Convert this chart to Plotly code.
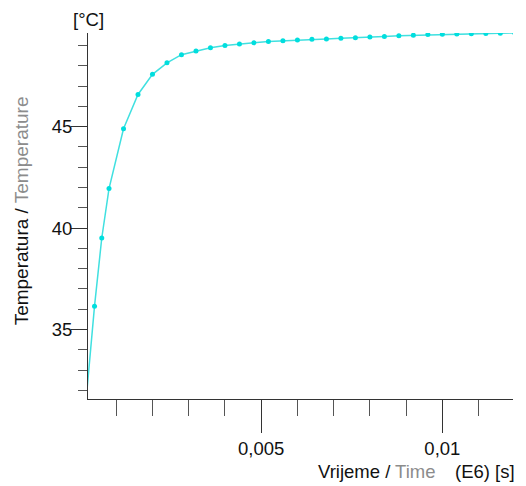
import plotly.graph_objects as go

# Data (time in E6 s, temperature in °C)
time_early = [0.0002, 0.0004, 0.0006, 0.0008, 0.0012, 0.0016]
temp_early = [32.17, 36.15, 39.51, 41.95, 44.90, 46.59]

time_late = [0.0020, 0.0024, 0.0028, 0.0032, 0.0036, 0.0040, 0.0044, 0.0048,
             0.0052, 0.0056, 0.0060, 0.0064, 0.0068, 0.0072, 0.0076, 0.0080,
             0.0084, 0.0088, 0.0092, 0.0096, 0.0100, 0.0104, 0.0108, 0.0112,
             0.0116, 0.0120]
temp_late = [47.58, 48.15, 48.55, 48.73, 48.89, 49.00, 49.08, 49.14,
             49.20, 49.24, 49.27, 49.31, 49.33, 49.36, 49.38, 49.42,
             49.45, 49.49, 49.51, 49.54, 49.56, 49.57, 49.58, 49.59,
             49.61, 49.62]

x_ticks = [0.005, 0.01]
x_ticklabels = ["0,005", "0,01"]
y_ticks = [35, 40, 45]

x_range = [0.00022, 0.01195]
y_range = [31.57, 49.62]

time_all = time_early + time_late
temp_all = temp_early + temp_late

FONT = "Liberation Sans, Arial, sans-serif"
LINE = "#40e0e0"
MARK = "#00dede"
GRAY = "#8c8c8c"
FS = 18.5

fig = go.Figure()
fig.add_trace(go.Scatter(x=time_all, y=temp_all, mode="lines",
                         line=dict(color=LINE, width=1.5), hoverinfo="skip",
                         showlegend=False))
fig.add_trace(go.Scatter(x=time_all[1:], y=temp_all[1:], mode="markers",
                         marker=dict(color=MARK, size=5), showlegend=False))

fig.update_layout(
    width=518, height=478,
    margin=dict(l=80, r=13, t=25, b=87),
    paper_bgcolor="white", plot_bgcolor="white",
    separators=",.",
    font=dict(family=FONT, size=FS, color="#111"),
    xaxis=dict(range=x_range, showgrid=False, zeroline=False,
               showline=True, linecolor="#333", linewidth=1,
               ticks="outside", tickvals=x_ticks, ticktext=x_ticklabels,
               ticklen=33, tickcolor="#333", tickwidth=1,
               minor=dict(dtick=0.001, tick0=0, ticks="outside", ticklen=16,
                          tickcolor="#555", tickwidth=1, showgrid=False),
               tickfont=dict(size=FS, color="#111")),
    yaxis=dict(range=y_range, showgrid=False, zeroline=False,
               showline=True, linecolor="#333", linewidth=1,
               ticks="outside", tickvals=y_ticks, ticklen=16,
               tickcolor="#333", tickwidth=1, ticklabelstandoff=-5,
               minor=dict(dtick=1, tick0=0, ticks="outside", ticklen=9,
                          tickcolor="#555", tickwidth=1, showgrid=False),
               tickfont=dict(size=FS, color="#111")),
    annotations=[
        dict(text="[°C]", xref="paper", yref="paper", x=0.0, y=1.038,
             xanchor="center", yanchor="middle", showarrow=False,
             font=dict(size=FS, color="#111")),
        dict(text="Temperatura / <span style='color:%s'>Temperature</span>" % GRAY,
             xref="paper", yref="paper", x=-0.1565, y=0.514, textangle=-90,
             xanchor="center", yanchor="middle",
             showarrow=False, font=dict(size=19, color="#111")),
        dict(text="Vrijeme / <span style='color:%s'>Time</span>" % GRAY,
             xref="paper", yref="paper", x=0.68, y=-0.197,
             xanchor="center", yanchor="middle",
             showarrow=False, font=dict(size=FS, color="#111")),
        dict(text="(E6) [s]", xref="paper", yref="paper", x=1.0094, y=-0.197,
             xanchor="right", yanchor="middle", showarrow=False,
             font=dict(size=FS, color="#111")),
    ],
)

fig.write_html("out.html")
